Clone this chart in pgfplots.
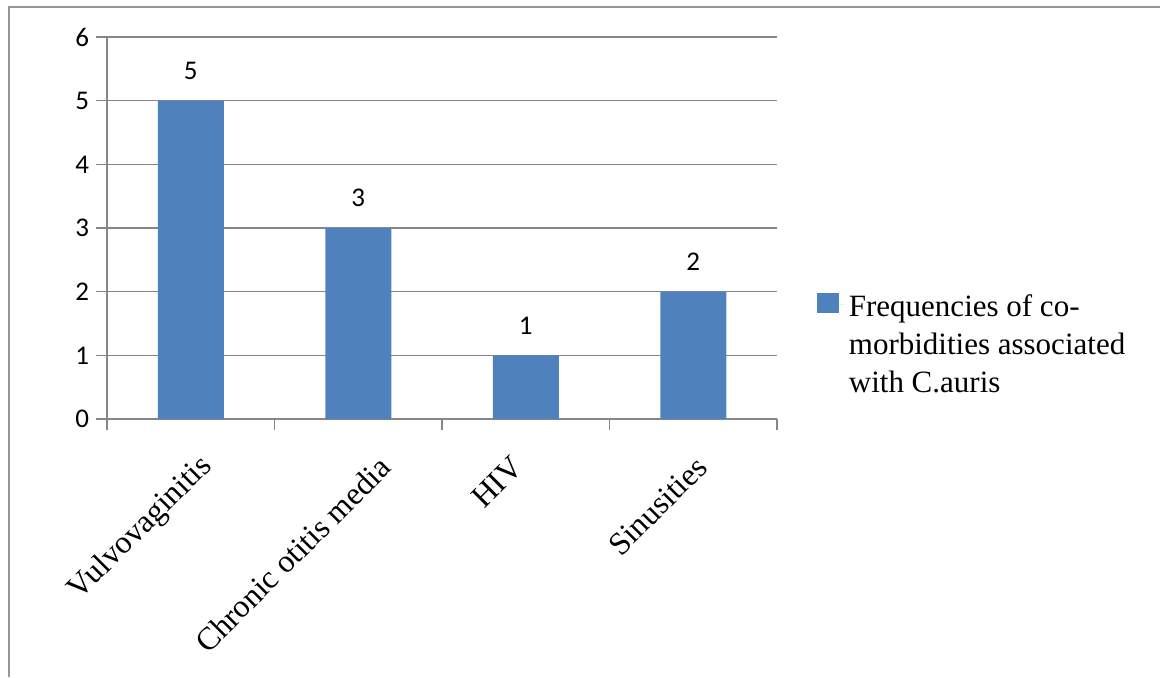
\documentclass[border=0pt]{standalone}
\usepackage{fontspec}
\setmainfont{Liberation Serif}
\newfontfamily\calibri{Carlito}
\usepackage{pgfplots}
\pgfplotsset{compat=1.18}
\definecolor{barblue}{RGB}{79,129,189}
\definecolor{axgray}{RGB}{134,134,134}
\definecolor{framegray}{RGB}{150,150,150}
\begin{document}
\begin{tikzpicture}
\useasboundingbox (0,0) rectangle (580pt,-338.5pt);
\draw[framegray, line width=1pt] (4.5pt,-338.5pt) -- (4.5pt,-3.5pt) -- (580pt,-3.5pt);
\begin{axis}[
  at={(53.5pt,-209.5pt)}, anchor=south west,
  scale only axis, width=335pt, height=191pt,
  ybar, bar width=33pt,
  xmin=-0.5, xmax=3.5, ymin=0, ymax=6,
  ytick={0,1,2,3,4,5,6},
  axis x line*=bottom, axis y line*=left,
  axis line style={axgray, line width=0.8pt},
  tick style={axgray, line width=0.8pt},
  tick align=outside, major tick length=5.5pt,
  ymajorgrids, grid style={axgray, line width=0.8pt},
  xtick={-0.5,0.5,1.5,2.5,3.5}, xticklabels={},
  extra x ticks={0.13,1.19,1.98,3.08},
  extra x tick labels={Vulvovaginitis,Chronic otitis media,HIV,Sinusities},
  extra x tick style={major tick length=0pt,
    xticklabel style={yshift=-19pt, rotate=45, anchor=east, font=\rmfamily\fontsize{16}{18}\selectfont}},
  yticklabel style={font=\calibri\fontsize{13.5}{15}\selectfont},
  /pgf/number format/assume math mode=true,
  nodes near coords,
  every node near coord/.append style={font=\calibri\fontsize{13.5}{15}\selectfont, text=black, yshift=7pt},
  legend style={at={(1.05,0.36)}, anchor=north west, draw=none, fill=none,
    font=\rmfamily\fontsize{15.5}{19}\selectfont},
  legend image code/.code={\fill[barblue] (0pt,-4pt) rectangle (11pt,6pt); \path (0pt,0pt) -- (14pt,0pt);},
]
\addplot[fill=barblue, draw=none] coordinates {(0,5) (1,3) (2,1) (3,2)};
\addlegendentry{\begin{tabular}[t]{@{}l@{}}Frequencies of co-\\morbidities associated\\with C.auris\end{tabular}}
\end{axis}
\end{tikzpicture}
\end{document}
